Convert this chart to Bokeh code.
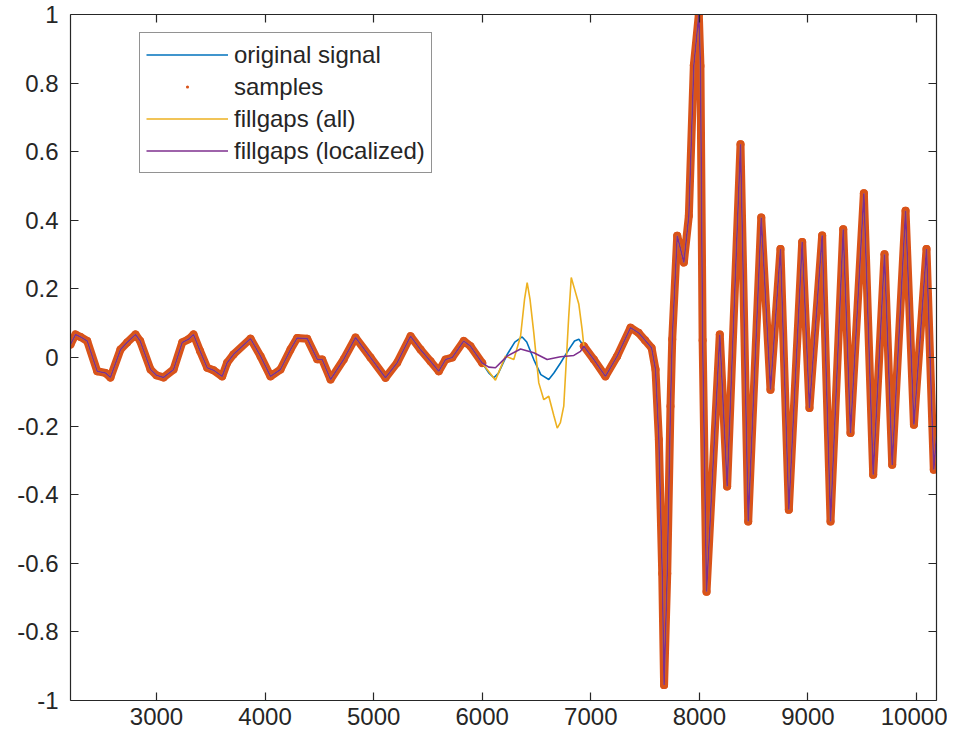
from bokeh.plotting import figure
from bokeh.models import (FixedTicker, CustomJSTickFormatter, LinearAxis, Legend,
                          LegendItem, Range1d)
from bokeh.embed import file_html
from bokeh.resources import INLINE

# ---------------- data ----------------
x_signal = [2208, 2254, 2300, 2362, 2454, 2530, 2576, 2668, 2730, 2807, 2850, 2945,
            3000, 3065, 3157, 3237, 3295, 3341, 3400, 3467, 3525, 3605, 3651, 3709,
            3866, 3958, 4050, 4142, 4234, 4296, 4388, 4480, 4526, 4603, 4725, 4833,
            4971, 5109, 5217, 5340, 5432, 5524, 5600, 5662, 5724, 5830, 5892, 6000,
            6060, 6107, 6150, 6230, 6300, 6368, 6410, 6475, 6540, 6613, 6660, 6721,
            6797, 6850, 6890, 6936, 7028, 7135, 7243,
            7366, 7440, 7500, 7560, 7596, 7627, 7658, 7675, 7704, 7734, 7750, 7796,
            7857, 7903, 7949, 7995, 8010, 8030, 8066, 8188, 8256, 8379, 8450, 8570,
            8655, 8747, 8824, 8947, 9014, 9131, 9208, 9325, 9392, 9515, 9601, 9705,
            9776, 9899, 9976, 10092, 10159, 10184]
y_signal = [0.038, 0.067, 0.060, 0.048, -0.040, -0.045, -0.058, 0.023, 0.044, 0.067, 0.048, -0.035,
            -0.052, -0.058, -0.035, 0.044, 0.053, 0.067, 0.020, -0.030, -0.037, -0.055, -0.015, 0.009,
            0.055, 0.004, -0.055, -0.035, 0.023, 0.057, 0.055, -0.005, -0.006, -0.064, -0.005, 0.058,
            0.000, -0.059, -0.015, 0.062, 0.023, -0.011, -0.040, -0.006, 0.000, 0.048, 0.033, -0.016,
            -0.045, -0.059, -0.045, 0.009, 0.045, 0.060, 0.045, -0.006, -0.050, -0.064, -0.045, -0.016,
            0.023, 0.048, 0.053, 0.033, -0.006, -0.055, 0.004,
            0.087, 0.072, 0.050, 0.028, -0.035, -0.240, -0.630, -0.955, -0.630, -0.142, 0.053, 0.355,
            0.277, 0.413, 0.852, 1.000, 0.850, 0.050, -0.683, 0.067, -0.376, 0.622, -0.478, 0.408,
            -0.094, 0.316, -0.444, 0.337, -0.147, 0.356, -0.478, 0.374, -0.220, 0.479, -0.342, 0.301,
            -0.313, 0.428, -0.196, 0.316, -0.327, -0.230]

gap_start = 6000
gap_end = 6936

x_fill_all_gap = [6122, 6214, 6291, 6353, 6390, 6414, 6440, 6475, 6521, 6567, 6613, 6660,
                  6691, 6720, 6751, 6797, 6820, 6850, 6890, 6920]
y_fill_all_gap = [-0.066, 0.004, -0.006, 0.062, 0.170, 0.218, 0.170, 0.072, -0.074, -0.123,
                  -0.113, -0.170, -0.206, -0.190, -0.142, 0.121, 0.233, 0.200, 0.155, 0.082]

x_fill_loc_gap = [6060, 6122, 6230, 6353, 6475, 6598, 6721, 6844, 6905]
y_fill_loc_gap = [-0.028, -0.030, 0.004, 0.025, 0.014, -0.006, 0.002, 0.006, 0.018]

x_ticks = [3000, 4000, 5000, 6000, 7000, 8000, 9000, 10000]
y_ticks = [-1, -0.8, -0.6, -0.4, -0.2, 0, 0.2, 0.4, 0.6, 0.8, 1]
labels = ["original signal", "samples", "fillgaps (all)", "fillgaps (localized)"]
colors = ["#0072BD", "#D95319", "#EDB120", "#7E2F8E"]

# ---------------- derived series ----------------
bx = [x for x in x_signal if x <= gap_start]
by = [y for x, y in zip(x_signal, y_signal) if x <= gap_start]
ax_ = [x for x in x_signal if x >= gap_end]
ay = [y for x, y in zip(x_signal, y_signal) if x >= gap_end]

x_all = bx + x_fill_all_gap + ax_
y_all = by + y_fill_all_gap + ay
x_loc = bx + x_fill_loc_gap + ax_
y_loc = by + y_fill_loc_gap + ay

# ---------------- figure ----------------
FONT = "Liberation Sans"
TXT = "#262626"
p = figure(width=947, height=736, output_backend="svg", toolbar_location=None,
           x_range=Range1d(2208, 10184), y_range=Range1d(-1, 1),
           min_border_left=70, min_border_right=11, min_border_top=14, min_border_bottom=36)
p.xgrid.visible = False
p.ygrid.visible = False
p.outline_line_color = None
p.background_fill_color = "white"
p.border_fill_color = "white"

r_sig = p.line(x_signal, y_signal, line_color=colors[0], line_width=1.6)
p.multi_line([bx, ax_], [by, ay], line_color=colors[1], line_width=8,
             line_join="round", line_cap="round")
r_smp = p.scatter(bx + ax_, by + ay, marker="dot", size=32, line_color=colors[1],
                  fill_color=colors[1])
r_all = p.line(x_all, y_all, line_color=colors[2], line_width=1.6)
r_loc = p.line(x_loc, y_loc, line_color=colors[3], line_width=1.6)

xt = FixedTicker(ticks=x_ticks)
yt = FixedTicker(ticks=y_ticks)
xf = CustomJSTickFormatter(code="return tick.toFixed(0)")
yf = CustomJSTickFormatter(code="return String(Number(tick.toFixed(1)))")


def style(a, standoff, show_labels=True):
    a.axis_line_color = TXT
    a.axis_line_width = 1.2
    a.major_tick_line_color = TXT
    a.major_tick_line_width = 1.2
    a.major_tick_in = 8
    a.major_tick_out = 0
    a.minor_tick_line_color = None
    a.major_label_text_font = FONT
    a.major_label_text_font_style = "normal"
    if show_labels:
        a.major_label_text_color = TXT
        a.major_label_text_font_size = "24px"
        a.major_label_standoff = standoff
    else:
        a.major_label_text_color = None
        a.major_label_text_font_size = "1px"
        a.major_label_standoff = 0


p.xaxis.ticker = xt
p.xaxis.formatter = xf
p.yaxis.ticker = yt
p.yaxis.formatter = yf
style(p.xaxis[0], 7)
style(p.yaxis[0], 12)

top = LinearAxis(ticker=xt, formatter=xf)
right = LinearAxis(ticker=yt, formatter=yf)
style(top, 0, False)
style(right, 0, False)
p.add_layout(top, "above")
p.add_layout(right, "right")

legend = Legend(items=[LegendItem(label=labels[0], renderers=[r_sig]),
                       LegendItem(label=labels[1], renderers=[r_smp]),
                       LegendItem(label=labels[2], renderers=[r_all]),
                       LegendItem(label=labels[3], renderers=[r_loc])],
                location=(69, 527))
legend.border_line_color = TXT
legend.border_line_width = 1.2
legend.background_fill_color = "white"
legend.background_fill_alpha = 1
legend.label_text_font = FONT
legend.label_text_font_size = "24px"
legend.label_text_color = TXT
legend.glyph_width = 82
legend.glyph_height = 31
legend.label_height = 31
legend.spacing = 1
legend.padding = 6
legend.margin = 0
legend.label_standoff = 6
p.add_layout(legend)

open("out.html", "w").write(file_html(p, INLINE))
